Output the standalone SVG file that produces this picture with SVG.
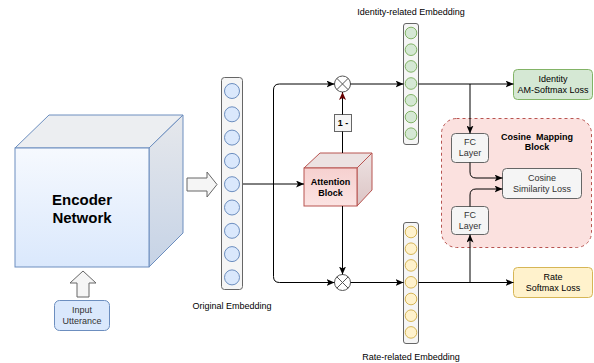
<svg xmlns="http://www.w3.org/2000/svg" width="594" height="363" viewBox="0 0 594 363">
  <defs>
    <linearGradient id="encFront" x1="0" y1="0" x2="0" y2="1">
      <stop offset="0" stop-color="#f6f9fe"/>
      <stop offset="1" stop-color="#dae8fc"/>
    </linearGradient>
    <linearGradient id="encSide" x1="0" y1="0" x2="0" y2="1">
      <stop offset="0" stop-color="#e6e8ec"/>
      <stop offset="1" stop-color="#c6d3e6"/>
    </linearGradient>
    <linearGradient id="attFront" x1="0" y1="0" x2="0" y2="1">
      <stop offset="0" stop-color="#f6d0cf"/>
      <stop offset="1" stop-color="#fbe3e2"/>
    </linearGradient>
    <linearGradient id="attSide" x1="0" y1="0" x2="0" y2="1">
      <stop offset="0" stop-color="#ede3e3"/>
      <stop offset="1" stop-color="#dcc4c4"/>
    </linearGradient>
    <marker id="arr" viewBox="0 0 8 7" refX="8" refY="3.5" markerWidth="8" markerHeight="7" markerUnits="userSpaceOnUse" orient="auto">
      <path d="M0,0 L8,3.5 L0,7 L2,3.5 z" fill="#000"/>
    </marker>
    <marker id="arrRed" viewBox="0 0 8 7" refX="8" refY="3.5" markerWidth="8" markerHeight="7" markerUnits="userSpaceOnUse" orient="auto">
      <path d="M0,0 L8,3.5 L0,7 L2,3.5 z" fill="#660000"/>
    </marker>
  </defs>
  <style>
    text { font-family: "Liberation Sans", Arial, sans-serif; font-size: 9px; fill: #000; }
    .b { font-weight: bold; }
    .pre { white-space: pre; }
    .big { font-size: 15px; font-weight: bold; }
    .gray { fill: #333; }
    .col { fill: #f5f5f5; stroke: #666; stroke-width: 1; }
    .blue { fill: #dae8fc; stroke: #6c8ebf; stroke-width: 1; }
    .green { fill: #d5e8d4; stroke: #82b366; stroke-width: 1; }
    .yellow { fill: #fff2cc; stroke: #d6b656; stroke-width: 1; }
    .grayBox { fill: #f5f5f5; stroke: #666; stroke-width: 1; }
    .hollow { fill: #f5f5f5; stroke: #666; stroke-width: 1; }
    .mult { fill: #fff; stroke: #555; stroke-width: 1; }
    .edge { fill: none; stroke: #000; stroke-width: 1; }
  </style>

  <!-- Encoder network cube -->
  <g id="encoder">
    <polygon points="15,148 49,115 183,115 149,148" fill="#eceef1" stroke="#6c8ebf"/>
    <polygon points="149,148 183,115 183,233 149,267" fill="url(#encSide)" stroke="#6c8ebf"/>
    <rect x="15" y="148" width="134" height="119" fill="url(#encFront)" stroke="#6c8ebf"/>
    <text class="big" x="82" y="205" text-anchor="middle">Encoder</text>
    <text class="big" x="82" y="223" text-anchor="middle">Network</text>
  </g>

  <!-- Input -->
  <g id="input-arrow">
    <polygon class="hollow" points="83,271 96,283 89,283 89,297 77,297 77,283 70,283"/>
  </g>
  <g id="input">
    <rect x="54.5" y="300.5" width="55" height="30" rx="5" class="blue"/>
    <text x="82" y="313" text-anchor="middle" class="gray">Input</text>
    <text x="82" y="324" text-anchor="middle" class="gray">Utterance</text>
  </g>

  <!-- Hollow arrow from encoder to embedding -->
  <g id="encoder-arrow">
    <polygon class="hollow" points="187,178 207,178 207,172 217,184.5 207,197 207,191 187,191"/>
  </g>

  <!-- Original embedding -->
  <g id="original-embedding">
    <rect x="221.5" y="77.5" width="21" height="212" rx="3" class="col"/>
    <circle cx="232" cy="91" r="7.5" class="blue"/>
    <circle cx="232" cy="114.3" r="7.5" class="blue"/>
    <circle cx="232" cy="137.6" r="7.5" class="blue"/>
    <circle cx="232" cy="160.9" r="7.5" class="blue"/>
    <circle cx="232" cy="184.2" r="7.5" class="blue"/>
    <circle cx="232" cy="207.5" r="7.5" class="blue"/>
    <circle cx="232" cy="230.8" r="7.5" class="blue"/>
    <circle cx="232" cy="254.1" r="7.5" class="blue"/>
    <circle cx="232" cy="277.4" r="7.5" class="blue"/>
    <text x="232" y="309" text-anchor="middle">Original Embedding</text>
  </g>

  <!-- Attention block cube -->
  <g id="attention">
    <polygon points="304,168 320,153 372,153 357,168" fill="#ece2e2" stroke="#b85450"/>
    <polygon points="357,168 372,153 372,190 357,206" fill="url(#attSide)" stroke="#b85450"/>
    <rect x="304" y="168" width="53" height="38" fill="url(#attFront)" stroke="#b85450"/>
    <text class="b" x="330.5" y="185" text-anchor="middle">Attention</text>
    <text class="b" x="330.5" y="196" text-anchor="middle">Block</text>
  </g>

  <!-- One-minus box -->
  <g id="one-minus">
    <rect x="334.5" y="114.5" width="17" height="17" class="grayBox"/>
    <text class="b" x="343" y="126" text-anchor="middle">1 -</text>
  </g>

  <!-- Multipliers -->
  <g id="mult-top">
    <circle cx="342.5" cy="84" r="8" class="mult"/>
    <path d="M336.8,78.3 L348.2,89.7 M348.2,78.3 L336.8,89.7" stroke="#555" stroke-width="1"/>
  </g>
  <g id="mult-bottom">
    <circle cx="342.5" cy="282.5" r="8" class="mult"/>
    <path d="M336.8,276.8 L348.2,288.2 M348.2,276.8 L336.8,288.2" stroke="#555" stroke-width="1"/>
  </g>

  <!-- Identity-related embedding -->
  <g id="identity-embedding">
    <rect x="403.5" y="23.5" width="15" height="121" rx="2.5" class="col"/>
    <circle cx="411" cy="33" r="5.8" class="green"/>
    <circle cx="411" cy="49.7" r="5.8" class="green"/>
    <circle cx="411" cy="66.4" r="5.8" class="green"/>
    <circle cx="411" cy="83.5" r="5.8" class="green"/>
    <circle cx="411" cy="100.3" r="5.8" class="green"/>
    <circle cx="411" cy="117" r="5.8" class="green"/>
    <circle cx="411" cy="133.7" r="5.8" class="green"/>
    <text x="411" y="15" text-anchor="middle">Identity-related Embedding</text>
  </g>

  <!-- Rate-related embedding -->
  <g id="rate-embedding">
    <rect x="403.5" y="222.5" width="15" height="121" rx="2.5" class="col"/>
    <circle cx="411" cy="232" r="5.8" class="yellow"/>
    <circle cx="411" cy="248.7" r="5.8" class="yellow"/>
    <circle cx="411" cy="265.4" r="5.8" class="yellow"/>
    <circle cx="411" cy="282.3" r="5.8" class="yellow"/>
    <circle cx="411" cy="299" r="5.8" class="yellow"/>
    <circle cx="411" cy="315.7" r="5.8" class="yellow"/>
    <circle cx="411" cy="332.4" r="5.8" class="yellow"/>
    <text x="411" y="360" text-anchor="middle">Rate-related Embedding</text>
  </g>

  <!-- Losses -->
  <g id="identity-loss">
    <rect x="513.5" y="69.5" width="79" height="30" rx="4" class="green"/>
    <text x="553" y="82" text-anchor="middle">Identity</text>
    <text x="553" y="93" text-anchor="middle">AM-Softmax Loss</text>
  </g>
  <g id="rate-loss">
    <rect x="513.5" y="267.5" width="79" height="30" rx="4" class="yellow"/>
    <text x="553" y="280" text-anchor="middle">Rate</text>
    <text x="553" y="291" text-anchor="middle">Softmax Loss</text>
  </g>

  <!-- Cosine mapping block -->
  <g id="cosine-mapping">
    <rect x="441.5" y="118.5" width="150" height="129" rx="15" fill="#fbe1df" stroke="#b85450" stroke-dasharray="3,3"/>
    <text class="b pre" x="537" y="140" text-anchor="middle" xml:space="preserve">Cosine  Mapping</text>
    <text class="b" x="537" y="150" text-anchor="middle">Block</text>
  </g>
  <g id="fc-top">
    <rect x="451.5" y="133.5" width="37" height="29" rx="4" class="grayBox"/>
    <text x="470" y="145" text-anchor="middle" class="gray">FC</text>
    <text x="470" y="156" text-anchor="middle" class="gray">Layer</text>
  </g>
  <g id="fc-bottom">
    <rect x="451.5" y="206.5" width="37" height="28" rx="4" class="grayBox"/>
    <text x="470" y="218" text-anchor="middle" class="gray">FC</text>
    <text x="470" y="229" text-anchor="middle" class="gray">Layer</text>
  </g>
  <g id="cosine-loss">
    <rect x="502.5" y="168.5" width="79" height="30" rx="4" class="grayBox"/>
    <text x="542" y="181" text-anchor="middle" class="gray">Cosine</text>
    <text x="542" y="192" text-anchor="middle" class="gray">Similarity Loss</text>
  </g>

  <!-- Connectors -->
  <g id="connectors">
    <path class="edge" d="M243,184 H304" marker-end="url(#arr)"/>
    <path class="edge" d="M273.5,184 V90 Q273.5,84 279.5,84 H334.5" marker-end="url(#arr)"/>
    <path class="edge" d="M273.5,184 V276.5 Q273.5,282.5 279.5,282.5 H334.5" marker-end="url(#arr)"/>
    <path class="edge" d="M342.5,153 V131.5"/>
    <path class="edge" d="M342.5,114.5 V92" stroke="#660000" marker-end="url(#arrRed)"/>
    <path class="edge" d="M342.5,206 V274.5" marker-end="url(#arr)"/>
    <path class="edge" d="M350.5,84 H403.5" marker-end="url(#arr)"/>
    <path class="edge" d="M350.5,282.5 H403.5" marker-end="url(#arr)"/>
    <path class="edge" d="M418.5,84 H513.5" marker-end="url(#arr)"/>
    <path class="edge" d="M470,84 V133.5" marker-end="url(#arr)"/>
    <path class="edge" d="M470,162.5 V172 Q470,178 476,178 H502.5" marker-end="url(#arr)"/>
    <path class="edge" d="M470,206.5 V195 Q470,189 476,189 H502.5" marker-end="url(#arr)"/>
    <path class="edge" d="M418.5,282.5 H513.5" marker-end="url(#arr)"/>
    <path class="edge" d="M470,282.5 V234.5" marker-end="url(#arr)"/>
  </g>
</svg>
